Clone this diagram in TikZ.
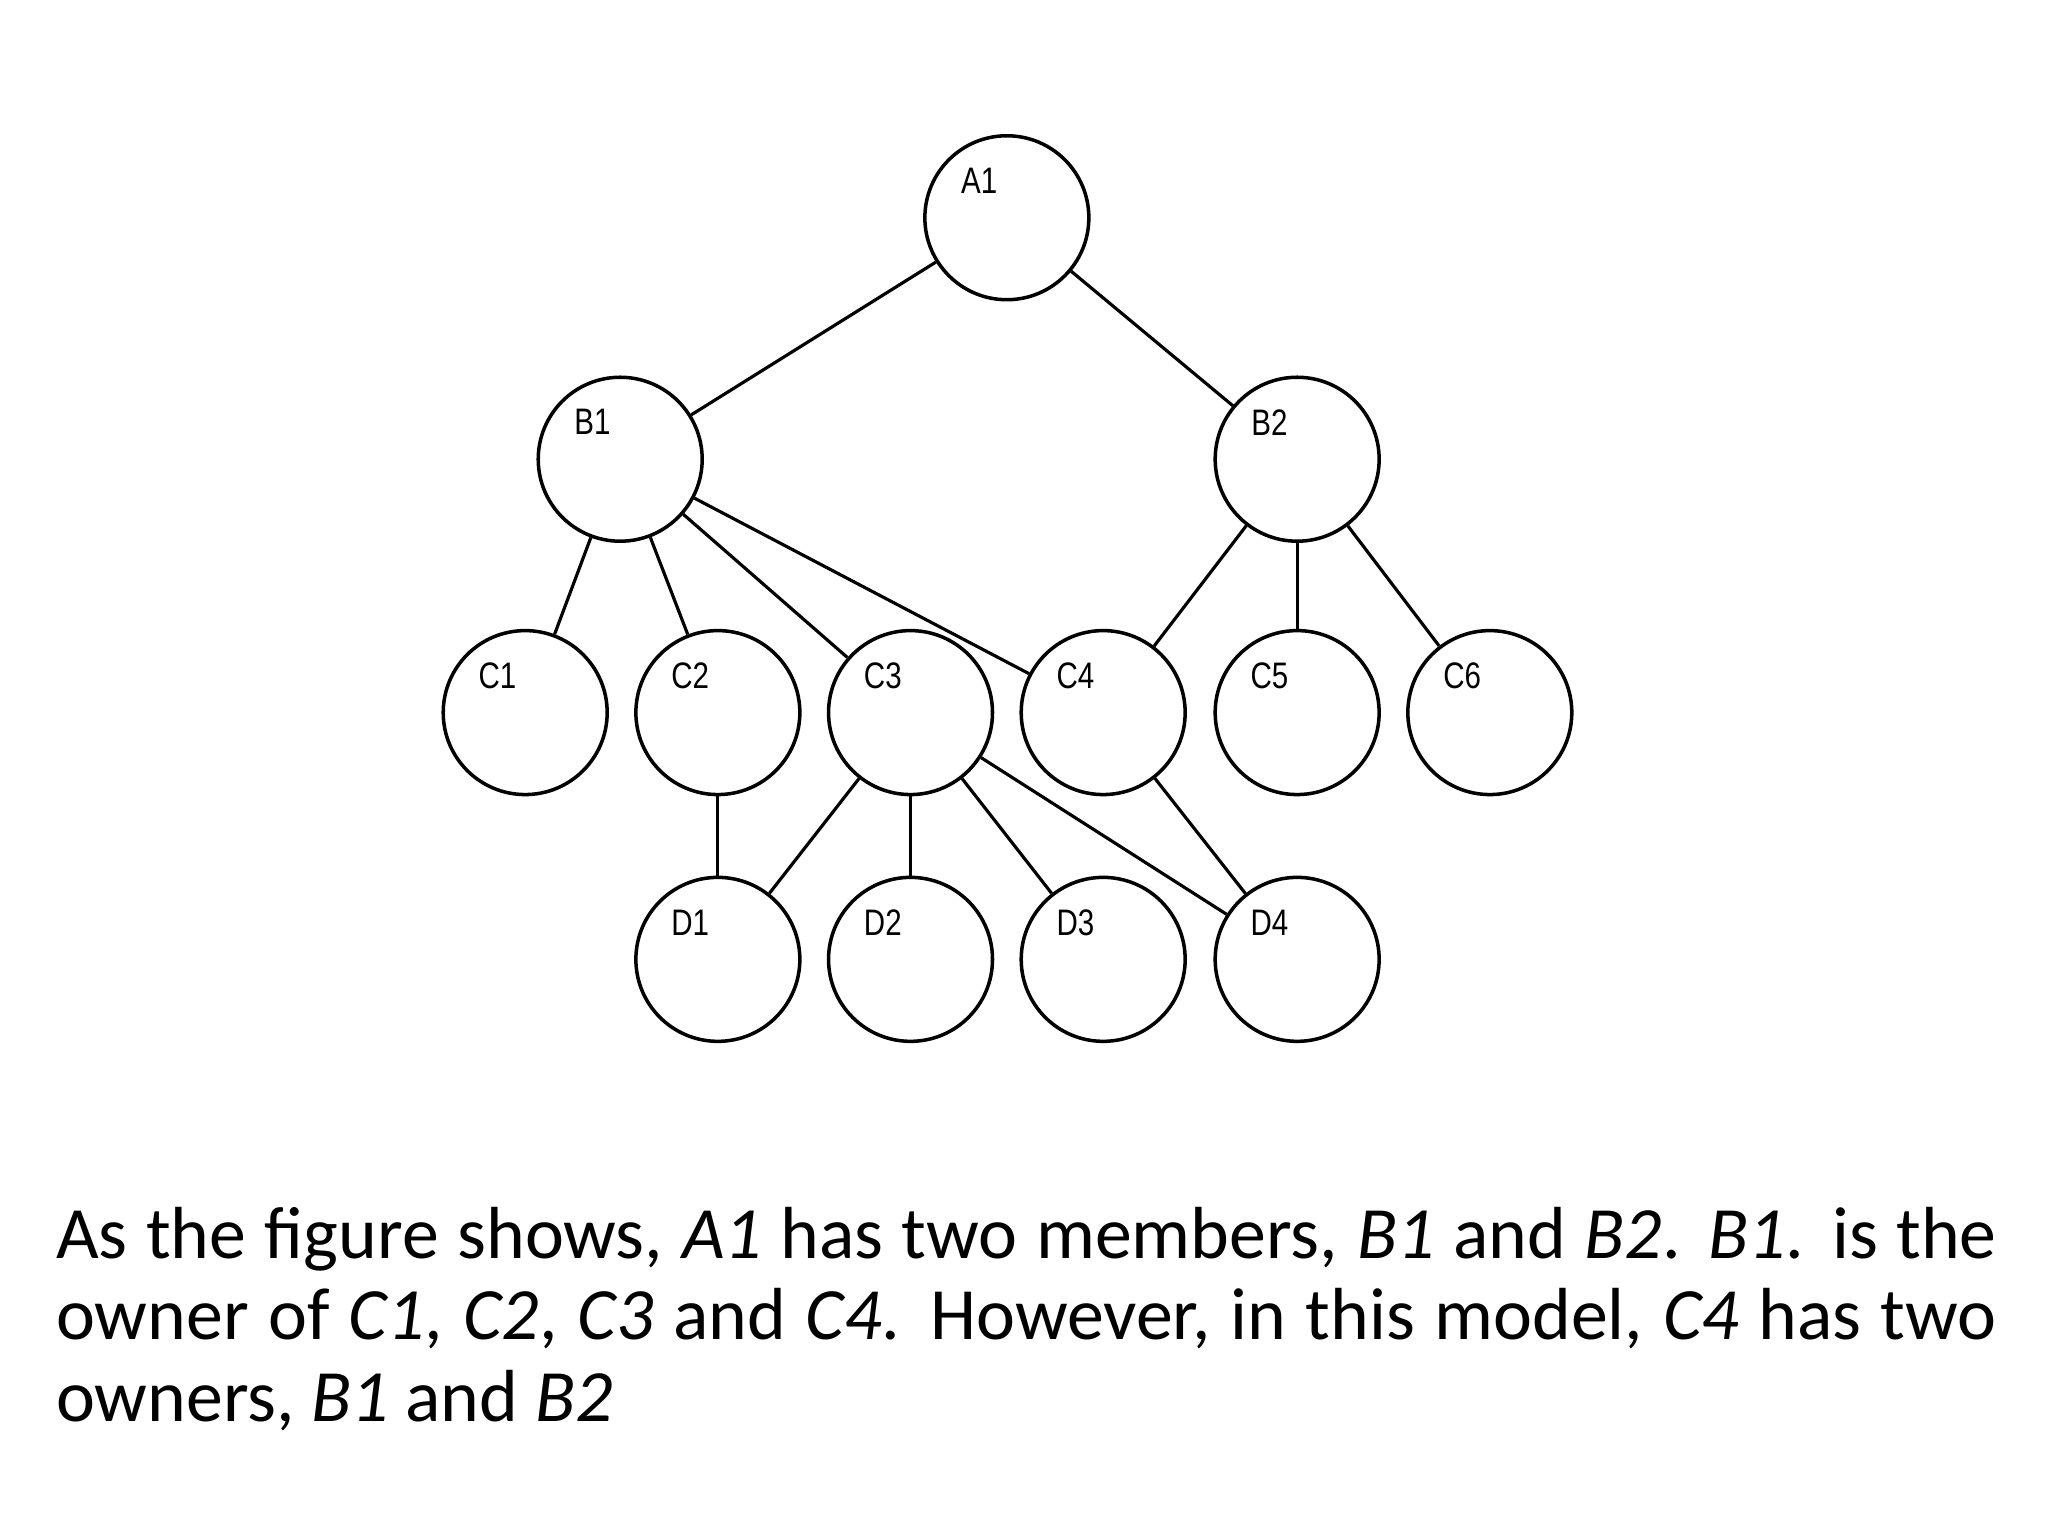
\documentclass[tikz,border=0pt]{standalone}
\usepackage{fontspec}
\setmainfont{Carlito}
\newfontfamily\lblfont{Liberation Sans}
\begin{document}
\begin{tikzpicture}[x=0.0132cm,y=-0.0132cm,
  vert/.style={circle,draw,line width=1pt,minimum size=1.64cm,inner sep=0pt},
  lbl/.style={font=\lblfont\fontsize{10.5}{12}\selectfont,xscale=0.8},
  edge/.style={line width=0.9pt}]
\useasboundingbox (0,0) rectangle (1552,1164);
\foreach \n/\x/\y in {A1/763/165,B1/470/348,B2/983/348,C1/398/540,C2/544/540,C3/690/540,C4/836/540,C5/983/540,C6/1129/540,D1/544/727,D2/690/727,D3/836/727,D4/983/727}{
  \node[vert] (\n) at (\x,\y) {};
  \node[lbl] (l\n) at (\x-21,\y-28) {\n};
}
\foreach \a/\b in {A1/B1,A1/B2,B1/C1,B1/C2,B1/C3,B1/C4,B2/C4,B2/C5,B2/C6,C2/D1,C3/D1,C3/D2,C3/D3,C3/D4,C4/D4}
  \draw[edge] (\a) -- (\b);
\node[anchor=north west,inner sep=0pt,text width=19.41cm,align=justify,font=\fontsize{21}{23.3}\selectfont] (txt) at (42,914)
{As the figure shows, \textit{A1} has two members, \textit{B1} and \textit{B2}. \textit{B1}. is the owner of \textit{C1}, \textit{C2}, \textit{C3} and \textit{C4}. However, in this model, \textit{C4} has two owners, \textit{B1} and \textit{B2}};
\end{tikzpicture}
\end{document}
